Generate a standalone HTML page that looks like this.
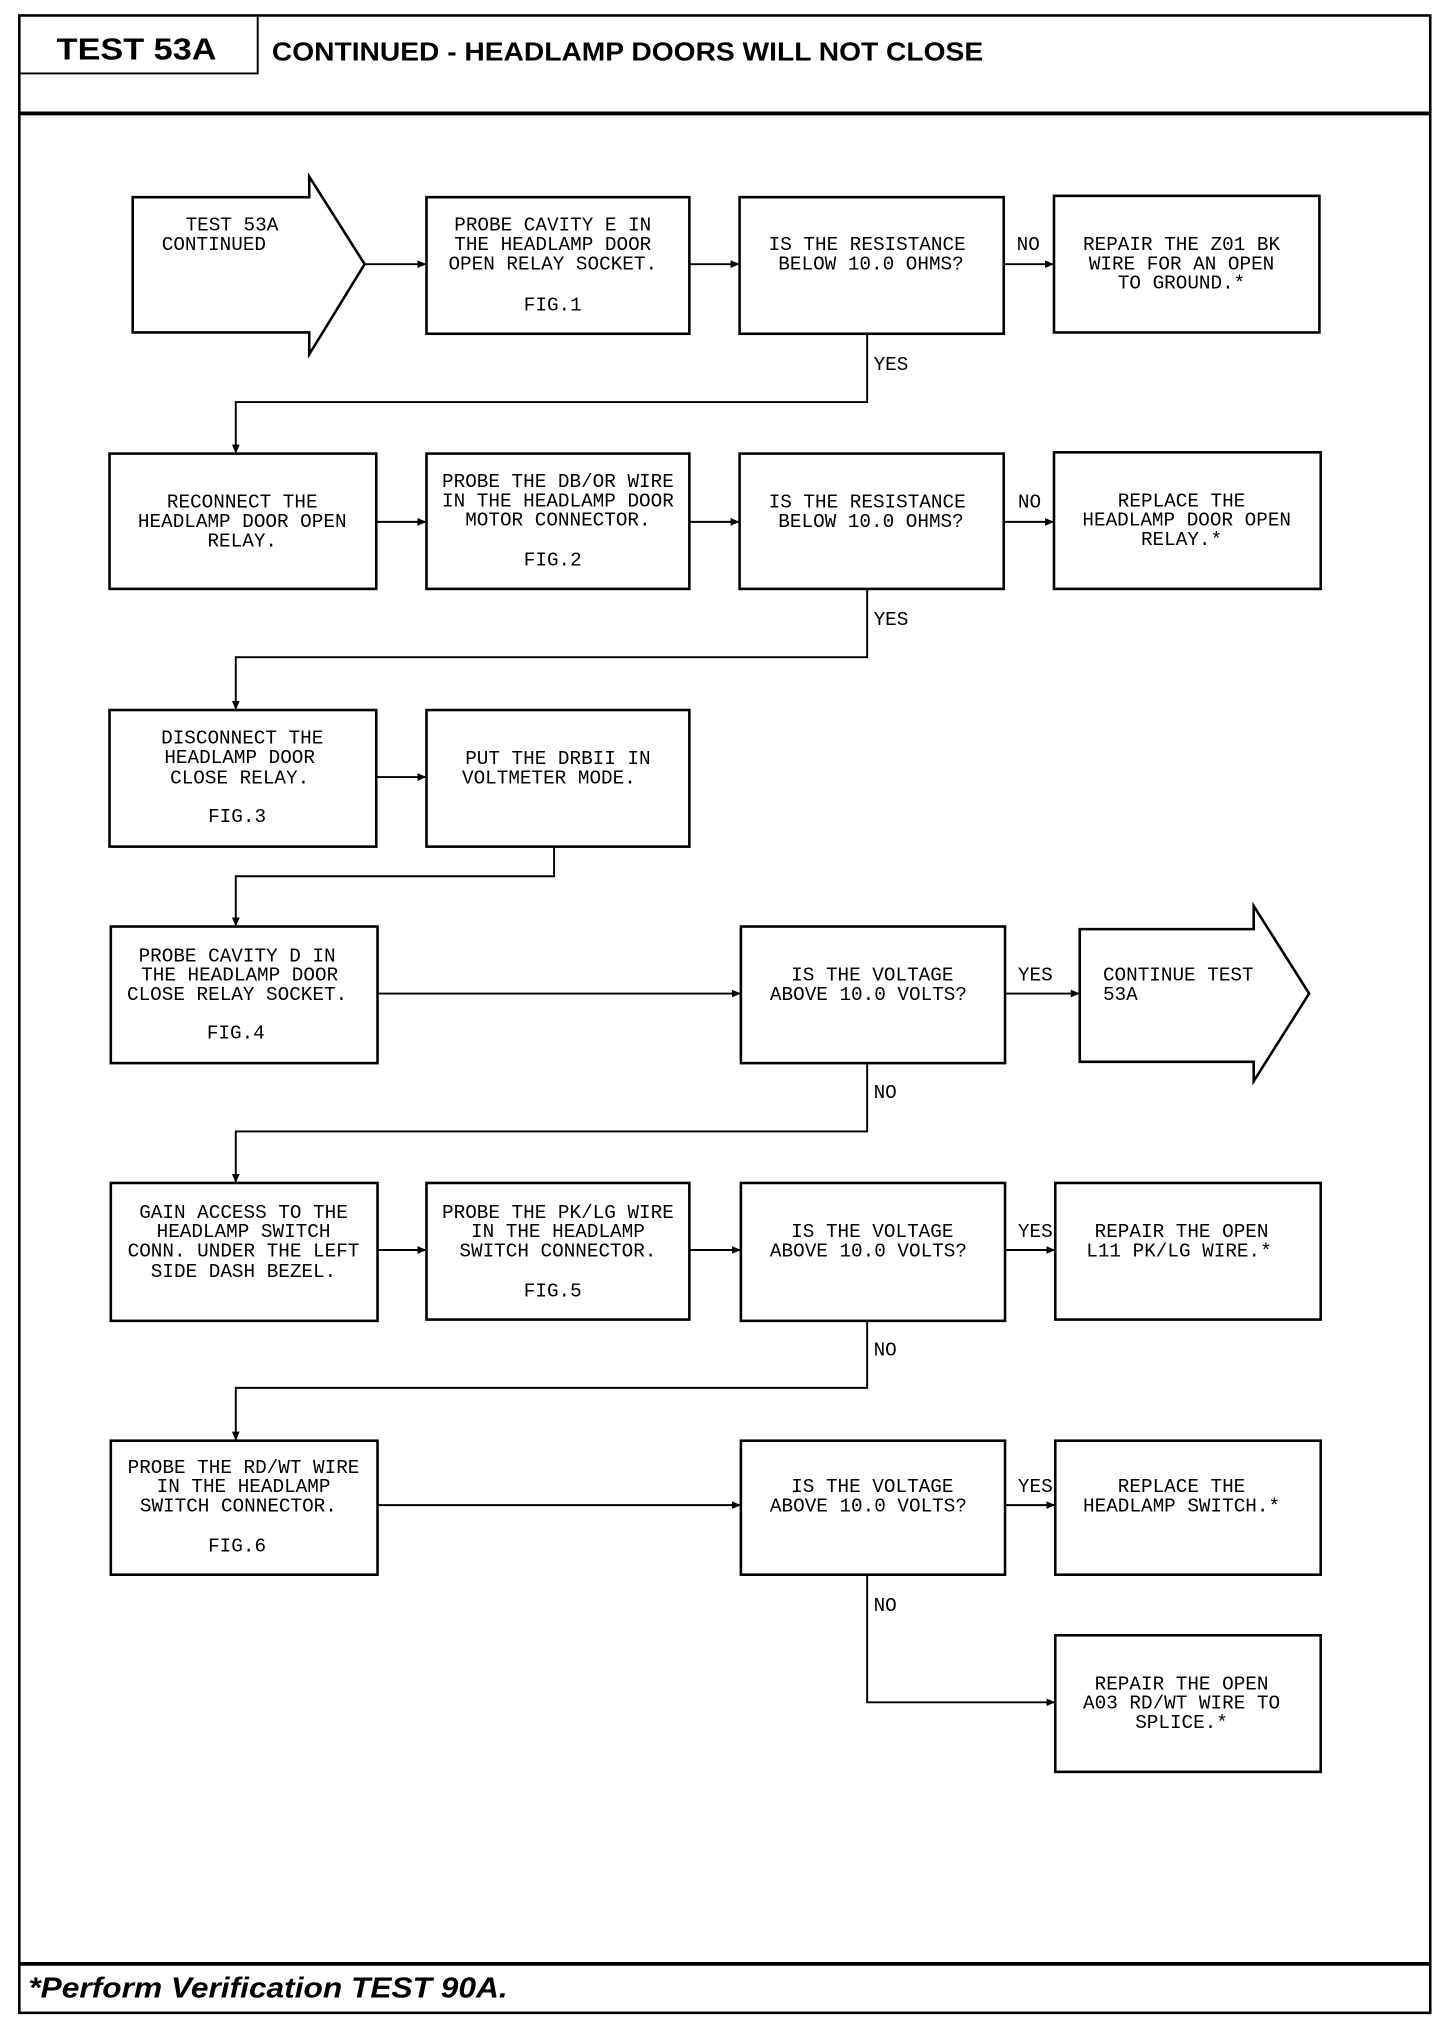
<!DOCTYPE html>
<html><head><meta charset="utf-8"><style>
html,body{margin:0;padding:0;background:#fff;}
svg{display:block;}
.t{font-family:"Liberation Mono",monospace;font-size:15px;fill:#000;text-anchor:middle;}
.l{font-family:"Liberation Mono",monospace;font-size:15px;fill:#000;}
</style></head><body>
<svg width="1456" height="2018" viewBox="0 0 1130 1566" preserveAspectRatio="none" xmlns="http://www.w3.org/2000/svg">
<defs><marker id="a" markerWidth="8" markerHeight="8" refX="7" refY="4" orient="auto" markerUnits="userSpaceOnUse"><path d="M0,1 L7,4 L0,7 Z" fill="#000"/></marker></defs>
<g fill="none" stroke="#000">
<rect x="15" y="12" width="1095" height="1550" stroke-width="2"/>
<polyline points="15,57 200,57 200,12" stroke-width="1.5"/>
<line x1="15" y1="88" x2="1110" y2="88" stroke-width="3"/>
<line x1="15" y1="1524" x2="1110" y2="1524" stroke-width="3"/>
<g stroke-width="2">
<polygon points="103,153 240,153 240,137 283,205 240,275 240,258 103,258"/>
<rect x="331" y="153" width="204" height="106"/>
<rect x="574" y="153" width="205" height="106"/>
<rect x="818" y="152" width="206" height="106"/>
<rect x="85" y="352" width="207" height="105"/>
<rect x="331" y="352" width="204" height="105"/>
<rect x="574" y="352" width="205" height="105"/>
<rect x="818" y="351" width="207" height="106"/>
<rect x="85" y="551" width="207" height="106"/>
<rect x="331" y="551" width="204" height="106"/>
<rect x="86" y="719" width="207" height="106"/>
<rect x="575" y="719" width="205" height="106"/>
<polygon points="838,721 973,721 973,703 1016,771 973,839 973,824 838,824"/>
<rect x="86" y="918" width="207" height="107"/>
<rect x="331" y="918" width="204" height="106"/>
<rect x="575" y="918" width="205" height="107"/>
<rect x="819" y="918" width="206" height="106"/>
<rect x="86" y="1118" width="207" height="104"/>
<rect x="575" y="1118" width="205" height="104"/>
<rect x="819" y="1118" width="206" height="104"/>
<rect x="819" y="1269" width="206" height="106"/>
</g>
<g stroke-width="1.5" marker-end="url(#a)">
<line x1="283" y1="205" x2="331" y2="205"/>
<line x1="535" y1="205" x2="574" y2="205"/>
<line x1="779" y1="205" x2="818" y2="205"/>
<polyline points="673,259 673,312 183,312 183,352"/>
<line x1="292" y1="405" x2="331" y2="405"/>
<line x1="535" y1="405" x2="574" y2="405"/>
<line x1="779" y1="405" x2="818" y2="405"/>
<polyline points="673,457 673,510 183,510 183,551"/>
<line x1="292" y1="603" x2="331" y2="603"/>
<polyline points="430,657 430,680 183,680 183,719"/>
<line x1="293" y1="771" x2="575" y2="771"/>
<line x1="780" y1="771" x2="838" y2="771"/>
<polyline points="673,825 673,878 183,878 183,918"/>
<line x1="293" y1="970" x2="331" y2="970"/>
<line x1="535" y1="970" x2="575" y2="970"/>
<line x1="780" y1="970" x2="819" y2="970"/>
<polyline points="673,1025 673,1077 183,1077 183,1118"/>
<line x1="293" y1="1168" x2="575" y2="1168"/>
<line x1="780" y1="1168" x2="819" y2="1168"/>
<polyline points="673,1222 673,1321 819,1321"/>
</g>
</g>
<text x="44" y="46" font-family="Liberation Sans,sans-serif" font-weight="bold" font-size="24" textLength="124" lengthAdjust="spacingAndGlyphs">TEST 53A</text>
<text x="211" y="47" font-family="Liberation Sans,sans-serif" font-weight="bold" font-size="20" textLength="552" lengthAdjust="spacingAndGlyphs">CONTINUED - HEADLAMP DOORS WILL NOT CLOSE</text>
<text x="22" y="1550" font-family="Liberation Sans,sans-serif" font-weight="bold" font-style="italic" font-size="22" textLength="372" lengthAdjust="spacingAndGlyphs">*Perform Verification TEST 90A.</text>
<g class="t">
<text x="180" y="179">TEST 53A</text><text x="166" y="194">CONTINUED</text>
<text x="429" y="179">PROBE CAVITY E IN</text><text x="429" y="194">THE HEADLAMP DOOR</text><text x="429" y="209">OPEN RELAY SOCKET.</text><text x="429" y="241">FIG.1</text>
<text x="673" y="194">IS THE RESISTANCE</text><text x="676" y="209">BELOW 10.0 OHMS?</text>
<text x="917" y="194">REPAIR THE Z01 BK</text><text x="917" y="209">WIRE FOR AN OPEN</text><text x="917" y="224">TO GROUND.*</text>
<text x="188" y="394">RECONNECT THE</text><text x="188" y="409">HEADLAMP DOOR OPEN</text><text x="188" y="424">RELAY.</text>
<text x="433" y="378">PROBE THE DB/OR WIRE</text><text x="433" y="393">IN THE HEADLAMP DOOR</text><text x="433" y="408">MOTOR CONNECTOR.</text><text x="429" y="439">FIG.2</text>
<text x="673" y="394">IS THE RESISTANCE</text><text x="676" y="409">BELOW 10.0 OHMS?</text>
<text x="917" y="393">REPLACE THE</text><text x="921" y="408">HEADLAMP DOOR OPEN</text><text x="917" y="423">RELAY.*</text>
<text x="188" y="577">DISCONNECT THE</text><text x="186" y="592">HEADLAMP DOOR</text><text x="186" y="608">CLOSE RELAY.</text><text x="184" y="638">FIG.3</text>
<text x="433" y="593">PUT THE DRBII IN</text><text x="426" y="608">VOLTMETER MODE.</text>
<text x="184" y="746">PROBE CAVITY D IN</text><text x="186" y="761">THE HEADLAMP DOOR</text><text x="184" y="776">CLOSE RELAY SOCKET.</text><text x="183" y="806">FIG.4</text>
<text x="677" y="761">IS THE VOLTAGE</text><text x="674" y="776">ABOVE 10.0 VOLTS?</text>
<text x="189" y="945">GAIN ACCESS TO THE</text><text x="189" y="960">HEADLAMP SWITCH</text><text x="189" y="975">CONN. UNDER THE LEFT</text><text x="189" y="991">SIDE DASH BEZEL.</text>
<text x="433" y="945">PROBE THE PK/LG WIRE</text><text x="433" y="960">IN THE HEADLAMP</text><text x="433" y="975">SWITCH CONNECTOR.</text><text x="429" y="1006">FIG.5</text>
<text x="677" y="960">IS THE VOLTAGE</text><text x="674" y="975">ABOVE 10.0 VOLTS?</text>
<text x="917" y="960">REPAIR THE OPEN</text><text x="915" y="975">L11 PK/LG WIRE.*</text>
<text x="189" y="1143">PROBE THE RD/WT WIRE</text><text x="189" y="1158">IN THE HEADLAMP</text><text x="185" y="1173">SWITCH CONNECTOR.</text><text x="184" y="1204">FIG.6</text>
<text x="677" y="1158">IS THE VOLTAGE</text><text x="674" y="1173">ABOVE 10.0 VOLTS?</text>
<text x="917" y="1158">REPLACE THE</text><text x="917" y="1173">HEADLAMP SWITCH.*</text>
<text x="917" y="1311">REPAIR THE OPEN</text><text x="917" y="1326">A03 RD/WT WIRE TO</text><text x="917" y="1341">SPLICE.*</text>
</g>
<g class="l">
<text x="856" y="761">CONTINUE TEST</text><text x="856" y="776">53A</text>
<text x="789" y="194">NO</text><text x="678" y="287">YES</text>
<text x="790" y="394">NO</text><text x="678" y="485">YES</text>
<text x="790" y="761">YES</text><text x="678" y="852">NO</text>
<text x="790" y="960">YES</text><text x="678" y="1052">NO</text>
<text x="790" y="1158">YES</text><text x="678" y="1250">NO</text>
</g>
</svg>
</body></html>
